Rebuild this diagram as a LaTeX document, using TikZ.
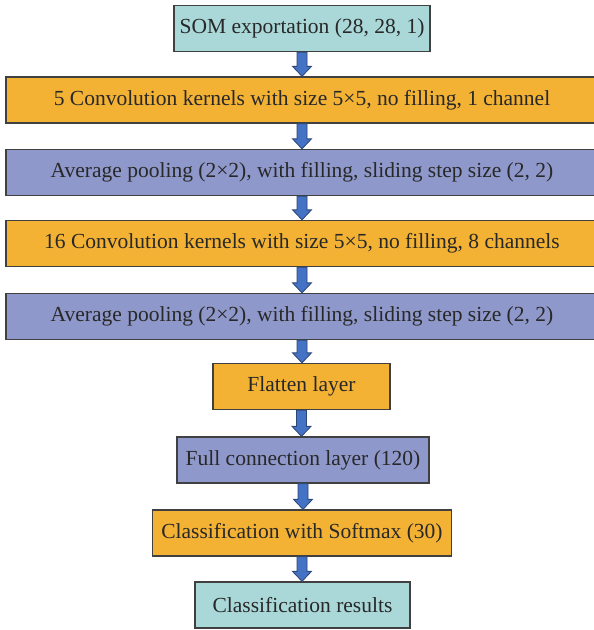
\documentclass[tikz,border=0pt]{standalone}
\usepackage{fontspec}
\setmainfont{Liberation Serif}
\usetikzlibrary{calc}
\definecolor{somteal}{RGB}{170,216,216}
\definecolor{convorange}{RGB}{243,178,52}
\definecolor{poolpurple}{RGB}{143,152,202}
\definecolor{arrowblue}{RGB}{68,114,196}
\definecolor{arrowedge}{RGB}{45,70,120}
\definecolor{edgegray}{RGB}{64,64,64}
\definecolor{textgray}{RGB}{40,40,40}
\begin{document}
\begin{tikzpicture}[x=1pt, y=-1pt,
    layer/.style={draw=edgegray, line width=1.3pt, minimum height=46pt, inner sep=0pt, align=center, text=textgray, font=\fontsize{21.5}{25}\selectfont},
    flow/.style={fill=arrowblue, draw=arrowedge, line width=0.8pt, line join=miter,
        to path={let \p1=(\tikztostart), \p2=(\tikztotarget) in
            (\x1-5pt,\y1) -- (\x1-5pt,\y2+10pt) -- (\x1-9.5pt,\y2+10pt) -- (\x1,\y2)
            -- (\x1+9.5pt,\y2+10pt) -- (\x1+5pt,\y2+10pt) -- (\x1+5pt,\y1) -- cycle}}
]
    \useasboundingbox (0,0) rectangle (594,630);
    % Input
    \node[layer, fill=somteal, minimum width=256pt] (som) at (302,28.5) {SOM exportation (28, 28, 1)};

    % Convolution and pooling
    \node[layer, fill=convorange, minimum width=592pt] (conv1) at (302,100) {5 Convolution kernels with size 5×5, no filling, 1 channel};
    \node[layer, fill=poolpurple, minimum width=592pt] (pool1) at (302,172.5) {Average pooling (2×2), with filling, sliding step size (2, 2)};
    \node[layer, fill=convorange, minimum width=592pt] (conv2) at (302,243.5) {16 Convolution kernels with size 5×5, no filling, 8 channels};
    \node[layer, fill=poolpurple, minimum width=592pt] (pool2) at (302,316.5) {Average pooling (2×2), with filling, sliding step size (2, 2)};

    % Dense part
    \node[layer, fill=convorange, minimum width=177pt] (flat) at (301.5,386.5) {Flatten layer};
    \node[layer, fill=poolpurple, minimum width=252pt] (full) at (303,460) {Full connection layer (120)};
    \node[layer, fill=convorange, minimum width=299pt] (soft) at (302,533) {Classification with Softmax (30)};

    % Output
    \node[layer, fill=somteal, minimum width=215pt] (res) at (302.5,605) {Classification results};

    % Arrows
    \draw[flow] (som.south) to (conv1.north);
    \draw[flow] (conv1.south) to (pool1.north);
    \draw[flow] (pool1.south) to (conv2.north);
    \draw[flow] (conv2.south) to (pool2.north);
    \draw[flow] (pool2.south) to (flat.north);
    \draw[flow] (flat.south) to (full.north);
    \draw[flow] (full.south) to (soft.north);
    \draw[flow] (soft.south) to (res.north);
\end{tikzpicture}
\end{document}
